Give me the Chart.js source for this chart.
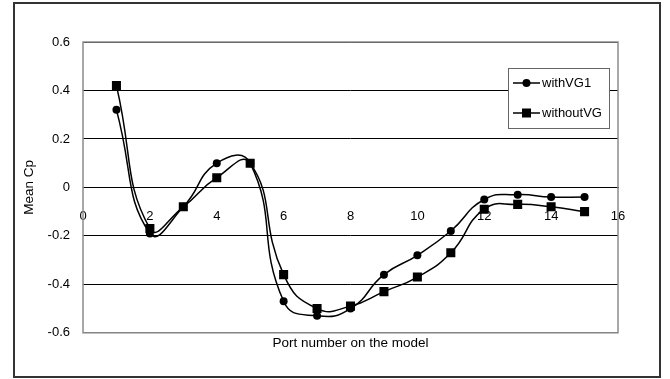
<!DOCTYPE html>
<html>
<head>
<meta charset="utf-8">
<title>Mean Cp vs port number</title>
<script src="https://cdn.jsdelivr.net/npm/chart.js@4.4.1/dist/chart.umd.min.js"></script>
<style>
  html, body { margin: 0; padding: 0; background: #fff; }
  #wrap { width: 670px; height: 379px; position: relative; }
</style>
</head>
<body>
<div id="wrap"><canvas id="cpChart"></canvas></div>
<script>
// --- data ---
const portNumbers = [1, 2, 3, 4, 5, 6, 7, 8, 9, 10, 11, 12, 13, 14, 15];
const withVG1 = [0.32, -0.19, -0.08, 0.10, 0.10, -0.47, -0.53, -0.50, -0.36, -0.28, -0.18, -0.05, -0.03, -0.04, -0.04];
const withoutVG = [0.42, -0.17, -0.08, 0.04, 0.10, -0.36, -0.50, -0.49, -0.43, -0.37, -0.27, -0.09, -0.07, -0.08, -0.10];
const seriesNames = ['withVG1', 'withoutVG'];
const xRange = [0, 16];
const yRange = [-0.6, 0.6];

const FONT = "'Liberation Sans', Arial, sans-serif";

const toPoints = (ys) => portNumbers.map((x, i) => ({ x: x, y: ys[i] }));

// white page + outer frame, then grey box round the plot area
const framePlugin = {
  id: 'frame',
  beforeDraw(chart) {
    const c = chart.ctx;
    c.save();
    c.fillStyle = '#fff';
    c.fillRect(0, 0, chart.width, chart.height);
    c.strokeStyle = '#333';
    c.lineWidth = 2;
    c.strokeRect(14, 3, 646, 374);
    c.restore();
  },
  beforeDatasetsDraw(chart) {
    const a = chart.chartArea;
    const c = chart.ctx;
    c.save();
    c.strokeStyle = '#8c8c8c';
    c.lineWidth = 1.5;
    c.strokeRect(a.left, a.top, a.right - a.left, a.bottom - a.top);
    c.restore();
  }
};

// boxed legend sitting inside the plot, top right
const boxLegend = {
  id: 'boxLegend',
  afterDraw(chart) {
    const c = chart.ctx;
    const x0 = 508, y0 = 68, w = 101, h = 60;
    c.save();
    c.fillStyle = '#fff';
    c.fillRect(x0, y0, w, h);
    c.strokeStyle = '#666';
    c.lineWidth = 1;
    c.strokeRect(x0 + 0.5, y0 + 0.5, w, h);
    chart.data.datasets.forEach((ds, i) => {
      const y = y0 + 15 + i * 30;
      c.strokeStyle = '#000';
      c.lineWidth = 1.5;
      c.beginPath();
      c.moveTo(x0 + 5, y);
      c.lineTo(x0 + 32, y);
      c.stroke();
      c.fillStyle = '#000';
      if (ds.pointStyle === 'rect') {
        c.fillRect(x0 + 18.5 - 4.5, y - 4.5, 9, 9);
      } else {
        c.beginPath();
        c.arc(x0 + 18.5, y, 4, 0, Math.PI * 2);
        c.fill();
      }
      c.font = '13px ' + FONT;
      c.textBaseline = 'middle';
      c.textAlign = 'left';
      c.fillText(ds.label, x0 + 34, y);
    });
    c.restore();
  }
};

new Chart(document.getElementById('cpChart'), {
  type: 'line',
  data: {
    datasets: [
      {
        label: seriesNames[0],
        data: toPoints(withVG1),
        borderColor: '#000',
        backgroundColor: '#000',
        borderWidth: 1.5,
        pointStyle: 'circle',
        pointRadius: 4,
        pointBorderWidth: 0,
        tension: 0.5,
        fill: false
      },
      {
        label: seriesNames[1],
        data: toPoints(withoutVG),
        borderColor: '#000',
        backgroundColor: '#000',
        borderWidth: 1.5,
        pointStyle: 'rect',
        pointRadius: 6.4,
        pointBorderWidth: 0,
        tension: 0.5,
        fill: false
      }
    ]
  },
  options: {
    responsive: true,
    maintainAspectRatio: false,
    animation: false,
    events: [],
    layout: { padding: { left: 0, top: 42, right: 52, bottom: 0 } },
    plugins: {
      legend: { display: false },
      tooltip: { enabled: false },
      title: {
        display: true,
        position: 'bottom',
        fullSize: false,
        text: 'Port number on the model',
        color: '#000',
        font: { family: FONT, size: 13.5, weight: 'normal' },
        padding: { top: 2, bottom: 28 }
      }
    },
    scales: {
      x: {
        type: 'linear',
        position: { y: 0 },
        min: xRange[0],
        max: xRange[1],
        ticks: {
          stepSize: 2,
          color: '#000',
          padding: 21,
          font: { family: FONT, size: 13 }
        },
        grid: { display: false, drawTicks: false },
        border: { display: true, color: '#000', width: 1 }
      },
      y: {
        min: yRange[0],
        max: yRange[1],
        ticks: {
          stepSize: 0.2,
          color: '#000',
          padding: 13,
          font: { family: FONT, size: 13 }
        },
        grid: { color: '#000', lineWidth: 1, drawTicks: false },
        border: { display: false },
        title: {
          display: true,
          text: 'Mean Cp',
          color: '#000',
          font: { family: FONT, size: 13.5 },
          padding: { top: 21, bottom: 0 }
        },
        afterFit(scale) { scale.width = 83; }
      }
    }
  },
  plugins: [framePlugin, boxLegend]
});
</script>
</body>
</html>
